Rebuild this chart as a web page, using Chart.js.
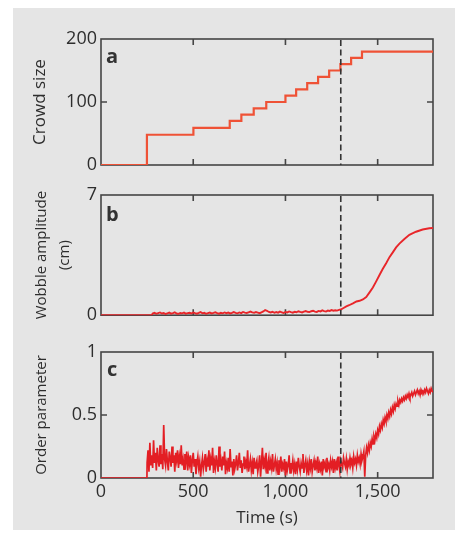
<!DOCTYPE html>
<html>
<head>
<meta charset="utf-8">
<script src="https://cdn.jsdelivr.net/npm/chart.js@4"></script>
<style>
body { margin: 0; background: #fff; }
#page { position: relative; width: 458px; height: 533px; overflow: hidden; }
#back { position: absolute; left: 13px; top: 8px; width: 442px; height: 522px; background: #e5e5e5; }
canvas { position: absolute; left: 0; }
.letter { position: absolute; font: bold 20px "Open Sans", sans-serif; line-height: 20px; color: #333; }
</style>
</head>
<body>
<div id="page">
  <div id="back"></div>
  <canvas id="crowdChart" width="458" height="180" style="top:0px"></canvas>
  <canvas id="wobbleChart" width="458" height="150" style="top:180px"></canvas>
  <canvas id="orderChart" width="458" height="203" style="top:330px"></canvas>
  <div class="letter" style="left:106px; top:46px">a</div>
  <div class="letter" style="left:106px; top:204px">b</div>
  <div class="letter" style="left:107px; top:359px">c</div>
</div>
<script>
// eixo do tempo (s)
const timeMax = 1800;
const timeTicks = [0, 500, 1000, 1500];
const timeTickLabels = ["0", "500", "1,000", "1,500"];
const resonanceTime = 1300; // linha tracejada

// a: crowd size (degraus)
const crowdTimes = [0, 249, 501, 698, 761, 828, 896, 1000, 1058, 1118, 1177, 1237, 1298, 1356, 1415, 1800];
const crowdSizes = [0, 48, 59, 70, 80, 90, 100, 110, 120, 130, 140, 150, 160, 170, 180, 180];
const crowdTicks = [0, 100, 200];
const crowdTickLabels = ["0", "100", "200"];

// b: wobble amplitude (cm)
const wobbleLeadTimes = [0, 275];
const wobbleLeadValues = [0, 0];
const wobbleNoiseStart = 280;
const wobbleNoiseStep = 10;
const wobbleNoise = [
    0.10, 0.14, 0.08, 0.12, 0.16, 0.10, 0.13, 0.07, 0.11, 0.15, 0.09, 0.12, 0.17, 0.10, 0.08, 0.13, 0.11, 0.15, 0.09, 0.12,
    0.14, 0.10, 0.16, 0.12, 0.09, 0.13, 0.18, 0.11, 0.14, 0.08, 0.12, 0.15, 0.10, 0.13, 0.17, 0.12, 0.09, 0.14, 0.11, 0.16,
    0.12, 0.15, 0.10, 0.13, 0.18, 0.14, 0.11, 0.16, 0.12, 0.19, 0.15, 0.13, 0.17, 0.21, 0.16, 0.14, 0.18, 0.15, 0.12, 0.17,
    0.22, 0.30, 0.26, 0.19, 0.16, 0.20, 0.14, 0.18, 0.15, 0.21, 0.17, 0.13, 0.19, 0.16, 0.22, 0.18, 0.15, 0.20, 0.17, 0.23,
    0.19, 0.16, 0.21, 0.24, 0.20, 0.18, 0.23, 0.26, 0.21, 0.19, 0.25, 0.22, 0.28, 0.24, 0.21, 0.27, 0.25, 0.30, 0.26, 0.29,
    0.27, 0.31
];
const wobbleRiseTimes = [1300, 1315, 1330, 1345, 1366, 1385, 1402, 1420, 1438, 1456, 1474, 1492, 1510, 1528, 1546, 1564, 1582, 1600, 1618, 1645, 1672, 1708, 1744, 1780, 1800];
const wobbleRiseValues = [0.33, 0.42, 0.51, 0.58, 0.69, 0.80, 0.84, 0.92, 1.06, 1.33, 1.61, 1.97, 2.34, 2.70, 3.03, 3.38, 3.66, 3.95, 4.17, 4.44, 4.68, 4.86, 4.99, 5.06, 5.08];
const wobbleTicks = [0, 7];
const wobbleTickLabels = ["0", "7"];

// c: order parameter
const orderLeadTimes = [0, 249];
const orderLeadValues = [0, 0];
const orderStart = 250;
const orderStep = 5;
const orderValues = [
    0.12, 0.22, 0.05, 0.28, 0.10, 0.18, 0.08, 0.30, 0.12, 0.20, 0.06, 0.24, 0.14, 0.09, 0.26, 0.11, 0.19, 0.07, 0.42, 0.15,
    0.10, 0.23, 0.13, 0.06, 0.21, 0.16, 0.09, 0.25, 0.12, 0.18, 0.05, 0.20, 0.14, 0.22, 0.08, 0.17, 0.11, 0.26, 0.10, 0.15,
    0.07, 0.19, 0.13, 0.21, 0.06, 0.16, 0.11, 0.18, 0.04, 0.14, 0.20, 0.09, 0.15, 0.03, 0.12, 0.17, 0.08, 0.13, 0.01, 0.10,
    0.16, 0.07, 0.12, 0.19, 0.05, 0.14, 0.09, 0.22, 0.06, 0.15, 0.10, 0.24, 0.04, 0.13, 0.08, 0.18, 0.11, 0.05, 0.25, 0.09,
    0.14, 0.06, 0.17, 0.10, 0.21, 0.03, 0.12, 0.08, 0.16, 0.05, 0.23, 0.09, 0.13, 0.02, 0.15, 0.07, 0.11, 0.18, 0.06, 0.12,
    0.20, 0.08, 0.14, 0.04, 0.11, 0.17, 0.07, 0.13, 0.09, 0.22, 0.05, 0.10, 0.15, 0.06, 0.12, 0.03, 0.16, 0.08, 0.11, 0.14,
    0.05, 0.10, 0.18, 0.01, 0.12, 0.24, 0.07, 0.14, 0.09, 0.20, 0.04, 0.11, 0.16, 0.06, 0.13, 0.08, 0.19, 0.05, 0.10, 0.15,
    0.07, 0.12, 0.03, 0.14, 0.09, 0.17, 0.05, 0.11, 0.08, 0.15, 0.02, 0.13, 0.06, 0.10, 0.18, 0.04, 0.12, 0.08, 0.14, 0.06,
    0.11, 0.03, 0.13, 0.07, 0.16, 0.09, 0.05, 0.12, 0.08, 0.19, 0.04, 0.10, 0.14, 0.06, 0.11, 0.02, 0.13, 0.08, 0.15, 0.05,
    0.10, 0.14, 0.06, 0.12, 0.08, 0.17, 0.04, 0.11, 0.07, 0.13, 0.02, 0.15, 0.09, 0.12, 0.05, 0.16, 0.08, 0.11, 0.06, 0.14,
    0.09, 0.13, 0.04, 0.15, 0.08, 0.12, 0.06, 0.17, 0.10, 0.05, 0.14, 0.11, 0.08, 0.16, 0.12, 0.09, 0.15, 0.07, 0.13, 0.10,
    0.16, 0.11, 0.14, 0.08, 0.17, 0.12, 0.15, 0.10, 0.18, 0.13, 0.16, 0.11, 0.19, 0.14, 0.17, 0.21, 0.01, 0.18, 0.24, 0.20,
    0.26, 0.22, 0.28, 0.25, 0.31, 0.27, 0.33, 0.30, 0.35, 0.32, 0.38, 0.35, 0.41, 0.38, 0.43, 0.40, 0.46, 0.43, 0.48, 0.45,
    0.50, 0.47, 0.52, 0.49, 0.54, 0.51, 0.56, 0.53, 0.58, 0.55, 0.59, 0.57, 0.61, 0.58, 0.62, 0.60, 0.63, 0.61, 0.64, 0.62,
    0.65, 0.63, 0.66, 0.64, 0.67, 0.64, 0.66, 0.68, 0.65, 0.67, 0.69, 0.66, 0.68, 0.70, 0.67, 0.69, 0.66, 0.70, 0.68, 0.69,
    0.67, 0.70, 0.68, 0.71, 0.69, 0.67, 0.70, 0.68, 0.71, 0.69, 0.68
];
const orderTicks = [0, 0.5, 1];
const orderTickLabels = ["0", "0.5", "1"];

const fontFamily = '"Open Sans", sans-serif';
const inkColor = "#2e2e2e";

function pairs(times, values) {
    return times.map((t, i) => ({ x: t, y: values[i] }));
}

function sampled(start, step, values) {
    return values.map((v, i) => ({ x: start + i * step, y: v }));
}

// moldura, ticks para dentro e linha tracejada
const framePlugin = {
    id: "frame",
    beforeDatasetsDraw(chart) {
        const { ctx, chartArea: a, scales: { x, y } } = chart;
        ctx.save();
        ctx.strokeStyle = "#454545";
        ctx.lineWidth = 1.6;
        ctx.strokeRect(a.left, a.top, a.right - a.left, a.bottom - a.top);
        ctx.beginPath();
        x.ticks.forEach(t => {
            if (t.value <= x.min || t.value >= x.max) return;
            const px = x.getPixelForValue(t.value);
            ctx.moveTo(px, a.top); ctx.lineTo(px, a.top + 6);
            ctx.moveTo(px, a.bottom); ctx.lineTo(px, a.bottom - 6);
        });
        y.ticks.forEach(t => {
            if (t.value <= y.min || t.value >= y.max) return;
            const py = y.getPixelForValue(t.value);
            ctx.moveTo(a.left, py); ctx.lineTo(a.left + 6, py);
            ctx.moveTo(a.right, py); ctx.lineTo(a.right - 6, py);
        });
        ctx.stroke();
        ctx.restore();
    },
    afterDatasetsDraw(chart) {
        const { ctx, chartArea: a, scales: { x } } = chart;
        const px = x.getPixelForValue(resonanceTime);
        ctx.save();
        ctx.strokeStyle = "#333";
        ctx.lineWidth = 1.6;
        ctx.setLineDash([6, 3.5]);
        ctx.beginPath();
        ctx.moveTo(px, a.top + 1);
        ctx.lineTo(px, a.bottom);
        ctx.stroke();
        ctx.restore();
    }
};

function buildPanel(canvasId, data, cfg) {
    const ctx = document.getElementById(canvasId).getContext("2d");
    return new Chart(ctx, {
        type: "line",
        data: {
            datasets: [{
                data: data,
                borderColor: cfg.color,
                borderWidth: cfg.width,
                stepped: cfg.stepped || false,
                pointRadius: 0,
                tension: 0
            }]
        },
        options: {
            responsive: false,
            animation: false,
            events: [],
            layout: { padding: { top: cfg.top, right: 25, bottom: 0, left: 0 } },
            plugins: { legend: { display: false }, tooltip: { enabled: false } },
            scales: {
                x: {
                    type: "linear",
                    min: 0,
                    max: timeMax,
                    afterFit: s => { s.height = cfg.xHeight; },
                    afterBuildTicks: s => { s.ticks = timeTicks.map(v => ({ value: v })); },
                    grid: { display: false, drawTicks: false },
                    border: { display: false },
                    ticks: {
                        display: cfg.showTime,
                        padding: 3,
                        color: inkColor,
                        font: { family: fontFamily, size: 18 },
                        maxRotation: 0,
                        autoSkip: false,
                        callback: v => timeTickLabels[timeTicks.indexOf(v)]
                    },
                    title: {
                        display: cfg.showTime,
                        text: "Time (s)",
                        color: inkColor,
                        font: { family: fontFamily, size: 17 },
                        padding: { top: 0, bottom: 5 }
                    }
                },
                y: {
                    type: "linear",
                    min: cfg.yTicks[0],
                    max: cfg.yTicks[cfg.yTicks.length - 1],
                    afterFit: s => { s.width = 101; },
                    afterBuildTicks: s => { s.ticks = cfg.yTicks.map(v => ({ value: v })); },
                    grid: { display: false, drawTicks: false },
                    border: { display: false },
                    ticks: {
                        padding: 4,
                        color: inkColor,
                        font: { family: fontFamily, size: 18 },
                        autoSkip: false,
                        callback: v => cfg.yLabels[cfg.yTicks.indexOf(v)]
                    },
                    title: {
                        display: true,
                        text: cfg.title,
                        color: inkColor,
                        font: cfg.titleFont,
                        padding: { top: cfg.titlePad, bottom: 0 }
                    }
                }
            }
        },
        plugins: [framePlugin]
    });
}

buildPanel("crowdChart", pairs(crowdTimes, crowdSizes), {
    color: "#ef5236", width: 2.2, stepped: "before",
    top: 39, xHeight: 15, showTime: false,
    yTicks: crowdTicks, yLabels: crowdTickLabels,
    title: "Crowd size", titleFont: { family: fontFamily, size: 17 }, titlePad: 30
});

const wobbleData = pairs(wobbleLeadTimes, wobbleLeadValues)
    .concat(sampled(wobbleNoiseStart, wobbleNoiseStep, wobbleNoise))
    .concat(pairs(wobbleRiseTimes, wobbleRiseValues));

buildPanel("wobbleChart", wobbleData, {
    color: "#e8262a", width: 1.9,
    top: 15, xHeight: 7, showTime: false,
    yTicks: wobbleTicks, yLabels: wobbleTickLabels,
    title: ["Wobble amplitude", "(cm)"], titleFont: { family: fontFamily, size: 15, lineHeight: 1.53 }, titlePad: 30
});

const orderData = pairs(orderLeadTimes, orderLeadValues)
    .concat(sampled(orderStart, orderStep, orderValues));

buildPanel("orderChart", orderData, {
    color: "#e31e24", width: 1.7,
    top: 22, xHeight: 55, showTime: true,
    yTicks: orderTicks, yLabels: orderTickLabels,
    title: "Order parameter", titleFont: { family: fontFamily, size: 15 }, titlePad: 33
});
</script>
</body>
</html>
